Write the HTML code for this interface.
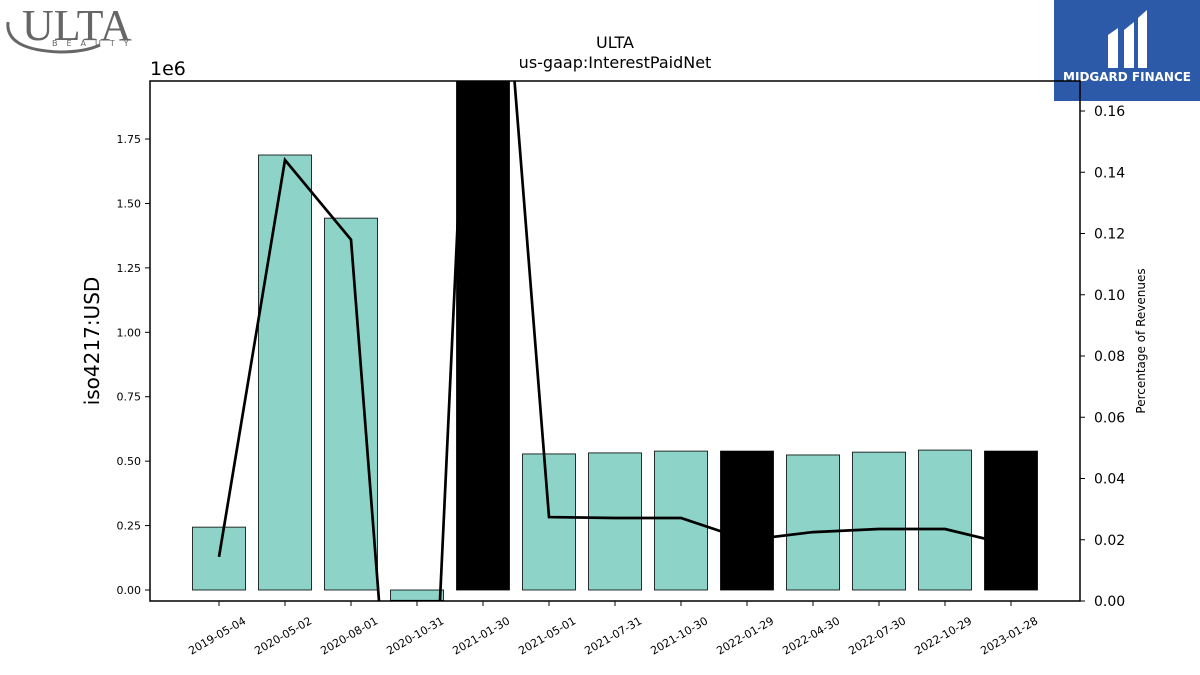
<!DOCTYPE html>
<html><head><meta charset="utf-8"><style>
html,body{margin:0;background:#fff;width:1200px;height:675px;overflow:hidden;}
svg{font-family:"DejaVu Sans","Liberation Sans",sans-serif;display:block;}
</style></head><body>
<svg width="1200" height="675" viewBox="0 0 1200 675" xmlns="http://www.w3.org/2000/svg">
<g>
<text x="22" y="40" font-size="44" font-family="Liberation Serif,serif" fill="#666">ULTA</text>
<text x="52" y="46" font-size="8" fill="#666" letter-spacing="9">BEAUTY</text>
<path d="M8,22 Q5,50 60,52 Q85,52 100,45" stroke="#666" stroke-width="3" fill="none"/>
</g>
<g>
<rect x="1054" y="0" width="146" height="101" fill="#2c5aa8"/>
<path d="M1108,68 L1108,35 L1118,28 L1118,68 Z M1124,68 L1124,30 L1134,22 L1134,68 Z M1138,68 L1138,18 L1147,10 L1147,68 Z" fill="#fff"/>
<text x="1127" y="81" font-size="12" font-weight="bold" fill="#fff" text-anchor="middle">MIDGARD FINANCE</text>
</g>
<text x="615" y="48" font-size="16" text-anchor="middle">ULTA</text>
<text x="615" y="68" font-size="16" text-anchor="middle">us-gaap:InterestPaidNet</text>
<text x="150" y="75" font-size="19">1e6</text>
<text transform="translate(99,341) rotate(-90)" font-size="20" text-anchor="middle">iso4217:USD</text>
<text transform="translate(1145,341) rotate(-90)" font-size="12" text-anchor="middle">Percentage of Revenues</text>
<defs><clipPath id="clip"><rect x="150" y="81" width="930" height="520"/></clipPath></defs>
<g id="bars" clip-path="url(#clip)"></g>
<g id="line" clip-path="url(#clip)"></g>
<g id="axes"></g>
<rect x="150" y="81" width="930" height="520" fill="none" stroke="#000" stroke-width="1.5"/>
</svg>
<script>
const categories=["2019-05-04","2020-05-02","2020-08-01","2020-10-31","2021-01-30","2021-05-01","2021-07-31","2021-10-30","2022-01-29","2022-04-30","2022-07-30","2022-10-29","2023-01-28"];
const barValues=[0.244,1.688,1.443,-0.04,2.3,0.528,0.532,0.539,0.539,0.524,0.535,0.543,0.539];
const annual=[false,false,false,false,true,false,false,false,true,false,false,false,true];
const pctValues=[0.0144,0.144,0.118,-0.16,0.30,0.0274,0.0271,0.0271,0.0199,0.0225,0.0235,0.0235,0.0183];
const leftTicks=["0.00","0.25","0.50","0.75","1.00","1.25","1.50","1.75"];
const rightTicks=["0.00","0.02","0.04","0.06","0.08","0.10","0.12","0.14","0.16"];
const NS="http://www.w3.org/2000/svg";
const xPos=i=>219+i*66;
const yL=v=>590-v*257.7;
const yR=v=>601-v*3062.5;
function mk(t,a,p){const e=document.createElementNS(NS,t);for(const k in a)e.setAttribute(k,a[k]);p.appendChild(e);return e;}
const bars=document.getElementById('bars'),line=document.getElementById('line'),axes=document.getElementById('axes');
barValues.forEach((v,i)=>{
 const y0=yL(0),y1=yL(v);
 const r=mk('rect',{x:xPos(i)-26.5,y:Math.min(y0,y1),width:53,height:Math.abs(y1-y0),fill:annual[i]?'#000':'#8dd3c7',stroke:'#000','stroke-width':0.8},bars);
 
 
});
const pl=mk('polyline',{points:pctValues.map((v,i)=>xPos(i)+','+yR(v)).join(' '),fill:'none',stroke:'#000','stroke-width':2.7},line);


leftTicks.forEach(t=>{
 const y=yL(parseFloat(t));
 mk('line',{x1:145,x2:150,y1:y,y2:y,stroke:'#000'},axes);
 const tx=mk('text',{x:141,y:y+4,'font-size':11,'text-anchor':'end'},axes);tx.textContent=t;
 
 
});
rightTicks.forEach(t=>{
 const y=yR(parseFloat(t));
 mk('line',{x1:1080,x2:1085,y1:y,y2:y,stroke:'#000'},axes);
 const tx=mk('text',{x:1094,y:y+5,'font-size':14},axes);tx.textContent=t;
 
 
});
categories.forEach((c,i)=>{
 const x=xPos(i);
 mk('line',{x1:x,x2:x,y1:601,y2:606,stroke:'#000'},axes);
 const tx=mk('text',{transform:`translate(${x},${639}) rotate(-30)`,'font-size':11,'text-anchor':'middle'},axes);tx.textContent=c;
 
 
});
</script>
</body></html>
